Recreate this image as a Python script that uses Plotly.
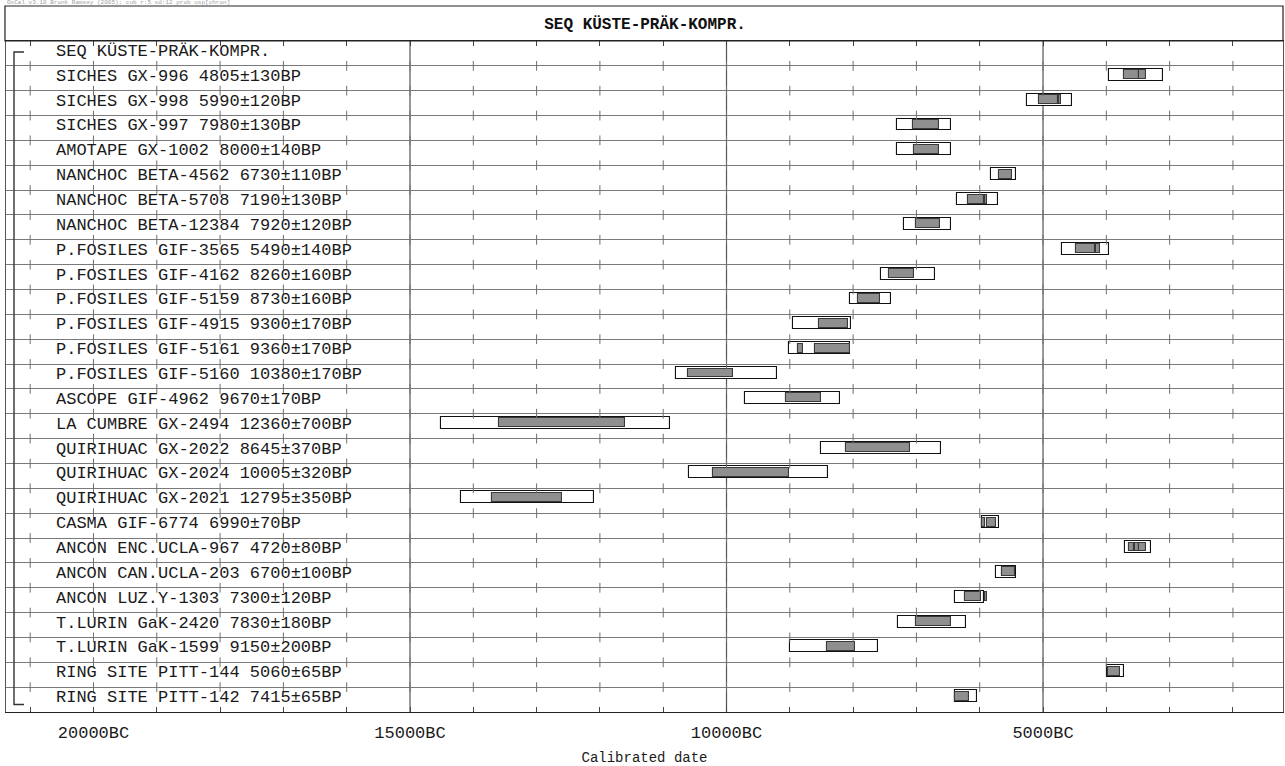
import plotly.graph_objects as go

# ---------------- data ----------------
title_text = "SEQ KÜSTE-PRÄK-KOMPR."
row_labels = [
    "SEQ KÜSTE-PRÄK-KOMPR.",
    "SICHES GX-996 4805±130BP",
    "SICHES GX-998 5990±120BP",
    "SICHES GX-997 7980±130BP",
    "AMOTAPE GX-1002 8000±140BP",
    "NANCHOC BETA-4562 6730±110BP",
    "NANCHOC BETA-5708 7190±130BP",
    "NANCHOC BETA-12384 7920±120BP",
    "P.FOSILES GIF-3565 5490±140BP",
    "P.FOSILES GIF-4162 8260±160BP",
    "P.FOSILES GIF-5159 8730±160BP",
    "P.FOSILES GIF-4915 9300±170BP",
    "P.FOSILES GIF-5161 9360±170BP",
    "P.FOSILES GIF-5160 10380±170BP",
    "ASCOPE GIF-4962 9670±170BP",
    "LA CUMBRE GX-2494 12360±700BP",
    "QUIRIHUAC GX-2022 8645±370BP",
    "QUIRIHUAC GX-2024 10005±320BP",
    "QUIRIHUAC GX-2021 12795±350BP",
    "CASMA GIF-6774 6990±70BP",
    "ANCON ENC.UCLA-967 4720±80BP",
    "ANCON CAN.UCLA-203 6700±100BP",
    "ANCON LUZ.Y-1303 7300±120BP",
    "T.LURIN GaK-2420 7830±180BP",
    "T.LURIN GaK-1599 9150±200BP",
    "RING SITE PITT-144 5060±65BP",
    "RING SITE PITT-142 7415±65BP",
]

# 95.4% ranges (years BC), rows 1..26
outer_row = list(range(1, 27))
outer_from = [3960, 5260, 7300, 7300, 5820, 6360, 7200, 4700, 7560, 8050, 8950, 9010, 10800,
              9710, 14510, 8500, 10600, 14200, 5970, 3700, 5750, 6390, 7290, 9000, 3990, 6390]
outer_to = [3100, 4550, 6450, 6450, 5430, 5710, 6450, 3960, 6710, 7400, 8030, 8050, 9200,
            8200, 10900, 6610, 8400, 12100, 5700, 3300, 5430, 5940, 6210, 7610, 3720, 6050]

# 68.2% ranges (years BC)
inner_row = [1, 1, 2, 2, 3, 4, 5, 6, 6, 7, 8, 8, 9, 10, 11, 12, 12, 13, 14, 15, 16, 17, 18,
             19, 19, 20, 20, 20, 21, 22, 22, 23, 24, 25, 26]
inner_from = [3720, 3480, 5060, 4750, 7050, 7040, 5700, 6180, 5920, 7010, 4480, 4160, 7430,
              7920, 8540, 8870, 8600, 10610, 9060, 13600, 8110, 10210, 13700, 5960, 5890,
              3640, 3550, 3480, 5650, 6230, 5910, 7010, 8410, 3970, 6390]
inner_to = [3480, 3370, 4760, 4720, 6650, 6640, 5490, 5940, 5890, 6620, 4180, 4100, 7040,
            7580, 8080, 8790, 8050, 9900, 8500, 11600, 7100, 9010, 12600, 5910, 5740,
            3570, 3490, 3370, 5450, 5980, 5890, 6450, 7970, 3780, 6170]

major_years = [20000, 15000, 10000, 5000]
major_labels = ["20000BC", "15000BC", "10000BC", "5000BC"]
grid_years = [15000, 10000, 5000]
minor_years = list(range(2000, 22000, 1000))
x_range = [21382, 1209]
n_rows = len(row_labels)

FONT = "Liberation Mono"

fig = go.Figure()

# crossing ticks on each row separator line
tx, ty = [], []
for r in range(1, n_rows):
    for yv in minor_years:
        tx.append(yv)
        ty.append(r)
fig.add_trace(go.Scatter(
    x=tx, y=ty, mode="markers", hoverinfo="skip", showlegend=False,
    marker=dict(symbol="line-ns", size=7, line=dict(width=1, color="#6e6e6e"))))

# outer (95.4%) boxes
fig.add_trace(go.Bar(
    orientation="h", y=[r + 0.36 for r in outer_row],
    base=outer_from, x=[t - f for f, t in zip(outer_from, outer_to)],
    width=0.48, marker=dict(color="white", line=dict(color="#111111", width=1.1)),
    hoverinfo="skip", showlegend=False))

# inner (68.2%) boxes
fig.add_trace(go.Bar(
    orientation="h", y=[r + 0.36 for r in inner_row],
    base=inner_from, x=[t - f for f, t in zip(inner_from, inner_to)],
    width=0.36, marker=dict(color="#8f8f8f", line=dict(color="#3a3a3a", width=1.1)),
    hoverinfo="skip", showlegend=False))

shapes = []
for g in grid_years:
    shapes.append(dict(type="line", xref="x", yref="y", x0=g, x1=g, y0=0, y1=n_rows,
                       line=dict(color="#555555", width=1.2), layer="below"))
# title box
shapes.append(dict(type="rect", xref="paper", yref="paper", x0=-0.0008, x1=1.0, y0=1.0,
                   y1=1 + 35 / 671, line=dict(color="#222222", width=1.2)))
# sequence bracket
bx0, bx1 = 8 / 1277, 18 / 1277
shapes.append(dict(type="path", xref="paper", yref="y",
                   path=f"M {bx1},0.44 L {bx0},0.44 L {bx0},26.7 L {bx1},26.7",
                   line=dict(color="#333333", width=1.4)))

annotations = []
for i, lab in enumerate(row_labels):
    annotations.append(dict(x=48 / 1277, y=i + 0.42, xref="paper", yref="y", text=lab,
                            showarrow=False, xanchor="left", yanchor="middle",
                            font=dict(family=FONT, size=17, color="#1a1a1a")))
annotations.append(dict(x=0, y=(712 - 3) / 671, xref="paper", yref="paper",
                        text="OxCal v3.10 Bronk Ramsey (2005); cub r:5 sd:12 prob usp[chron]",
                        showarrow=False, xanchor="left", yanchor="middle", borderpad=0,
                        font=dict(family=FONT, size=6, color="#a0a0a0")))

fig.update_layout(
    width=1285, height=766,
    margin=dict(l=6, r=2, t=41, b=54),
    paper_bgcolor="white", plot_bgcolor="white",
    barmode="overlay", bargap=0,
    title=dict(text="<b>" + title_text + "</b>", x=0.502, xanchor="center",
               y=1 - 23 / 766, yanchor="middle",
               font=dict(family=FONT, size=16, color="#111111")),
    shapes=shapes, annotations=annotations,
    xaxis=dict(range=x_range, tickmode="array", tickvals=major_years, ticktext=major_labels,
               ticks="inside", ticklen=5, tickcolor="#444444", tickwidth=1,
               minor=dict(tickmode="array", tickvals=minor_years, ticks="inside", ticklen=5,
                          tickcolor="#444444", tickwidth=1, showgrid=False),
               showgrid=False, zeroline=False, showline=True, linecolor="#222222", linewidth=1.2,
               mirror="ticks", ticklabelstandoff=4,
               tickfont=dict(family=FONT, size=17, color="#1a1a1a"),
               title=dict(text="Calibrated date", standoff=12,
                          font=dict(family=FONT, size=14, color="#1a1a1a"))),
    yaxis=dict(range=[n_rows, 0], tickmode="array", tickvals=list(range(1, n_rows)),
               showticklabels=False, ticks="", showgrid=True, gridcolor="#7a7a7a",
               gridwidth=1.1, zeroline=False, showline=True, linecolor="#555555",
               linewidth=1.2, mirror=True),
)

fig.write_html("out.html")
